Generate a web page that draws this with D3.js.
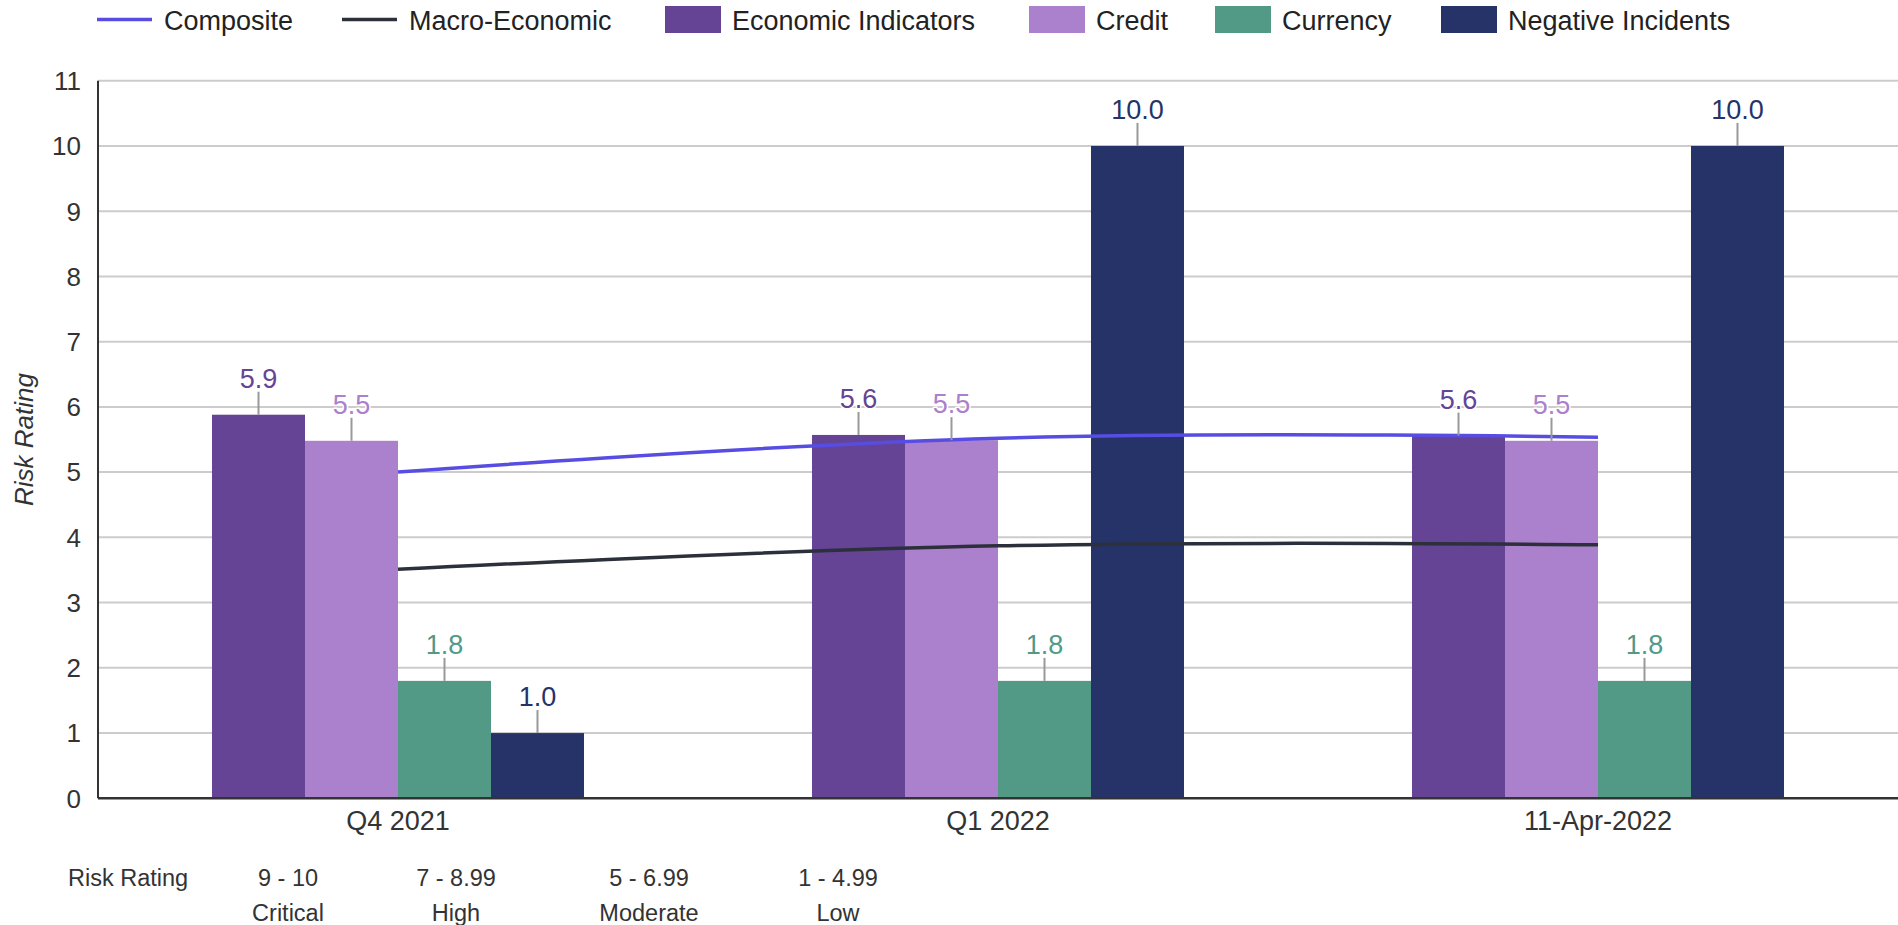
<!DOCTYPE html>
<html>
<head>
<meta charset="utf-8">
<script src="https://cdn.jsdelivr.net/npm/d3@7"></script>
<style>
  html, body { margin: 0; padding: 0; background: #fff; }
  svg { display: block; font-family: "Liberation Sans", Arial, Helvetica, sans-serif; }
</style>
</head>
<body>
<svg id="chart" width="1898" height="925"></svg>
<script>
// ---------- data ----------
const categories = ["Q4 2021", "Q1 2022", "11-Apr-2022"];
const barSeries = ["Economic Indicators", "Credit", "Currency", "Negative Incidents"];
const economicIndicators = [5.88, 5.57, 5.56];
const credit = [5.48, 5.49, 5.48];
const currency = [1.8, 1.8, 1.8];
const negativeIncidents = [1.0, 10.0, 10.0];
const composite = [5.0, 5.52, 5.535];
const macroEconomic = [3.51, 3.87, 3.885];
const yTicks = [0, 1, 2, 3, 4, 5, 6, 7, 8, 9, 10, 11];
const ratingRanges = ["9 - 10", "7 - 8.99", "5 - 6.99", "1 - 4.99"];
const ratingNames = ["Critical", "High", "Moderate", "Low"];

// ---------- styling / layout ----------
const colors = {
  "Composite": "#574de3",
  "Macro-Economic": "#2c303b",
  "Economic Indicators": "#654495",
  "Credit": "#ab80cc",
  "Currency": "#529986",
  "Negative Incidents": "#263368"
};
const barValues = [economicIndicators, credit, currency, negativeIncidents];

const svg = d3.select("#chart");
const plot = { left: 98, right: 1898, top: 80.7, bottom: 798.3 };

const x0 = d3.scaleBand().domain(categories).range([plot.left, plot.right]).paddingInner(0).paddingOuter(0);
const x1 = d3.scaleBand().domain(barSeries).range([0, x0.bandwidth()]).paddingInner(0).paddingOuter(1.226);
const y = d3.scaleLinear().domain([0, 11]).range([plot.bottom, plot.top]);

// gridlines
svg.append("g").selectAll("line").data(yTicks.filter(d => d > 0)).join("line")
  .attr("x1", plot.left).attr("x2", plot.right)
  .attr("y1", d => y(d)).attr("y2", d => y(d))
  .attr("stroke", "#cccccc").attr("stroke-width", 2);

// y tick labels
svg.append("g").selectAll("text").data(yTicks).join("text")
  .attr("x", 81).attr("y", d => y(d)).attr("dy", "0.36em")
  .attr("text-anchor", "end").attr("font-size", 26).attr("fill", "#333")
  .text(d => d);

// y axis title
svg.append("text")
  .attr("transform", `translate(33,${(plot.top + plot.bottom) / 2}) rotate(-90)`)
  .attr("text-anchor", "middle").attr("font-size", 26).attr("font-style", "italic")
  .attr("fill", "#333").text("Risk Rating");

// bars
const groups = svg.append("g").selectAll("g").data(categories).join("g")
  .attr("transform", d => `translate(${x0(d)},0)`);
groups.selectAll("rect").data((c, i) => barSeries.map((s, k) => ({ s, v: barValues[k][i] })))
  .join("rect")
  .attr("x", d => x1(d.s)).attr("width", x1.bandwidth())
  .attr("y", d => y(d.v)).attr("height", d => y(0) - y(d.v))
  .attr("fill", d => colors[d.s]);

// axes lines
svg.append("line").attr("x1", plot.left).attr("x2", plot.left).attr("y1", plot.top).attr("y2", plot.bottom)
  .attr("stroke", "#333").attr("stroke-width", 2);
svg.append("line").attr("x1", plot.left).attr("x2", plot.right).attr("y1", plot.bottom).attr("y2", plot.bottom)
  .attr("stroke", "#333").attr("stroke-width", 2.5);

// x labels
svg.append("g").selectAll("text").data(categories).join("text")
  .attr("x", d => x0(d) + x0.bandwidth() / 2).attr("y", 830)
  .attr("text-anchor", "middle").attr("font-size", 27).attr("fill", "#333")
  .text(d => d);

// spline (Highcharts-like smoothing)
function splinePath(pts) {
  const sm = 1.5, den = sm + 1;
  const ctrl = pts.map((p, i) => {
    if (i === 0 || i === pts.length - 1) return { l: p, r: p };
    const [px, py] = pts[i - 1], [x, yy] = p, [nx, ny] = pts[i + 1];
    const lX = (sm * x + px) / den, lY0 = (sm * yy + py) / den;
    const rX = (sm * x + nx) / den, rY0 = (sm * yy + ny) / den;
    const corr = ((rY0 - lY0) * (rX - x)) / (rX - lX) + yy - rY0;
    return { l: [lX, lY0 + corr], r: [rX, rY0 + corr] };
  });
  const path = d3.path();
  path.moveTo(pts[0][0], pts[0][1]);
  for (let i = 1; i < pts.length; i++) {
    const c1 = ctrl[i - 1].r, c2 = ctrl[i].l;
    path.bezierCurveTo(c1[0], c1[1], c2[0], c2[1], pts[i][0], pts[i][1]);
  }
  return path.toString();
}
const lineSeries = [["Composite", composite], ["Macro-Economic", macroEconomic]];
lineSeries.forEach(([name, vals]) => {
  const pts = categories.map((c, i) => [x0(c) + x0.bandwidth() / 2, y(vals[i])]);
  svg.append("path").attr("d", splinePath(pts)).attr("fill", "none")
    .attr("stroke", colors[name]).attr("stroke-width", 3.5).attr("stroke-linecap", "butt");
});

// data labels with connectors
const labels = svg.append("g");
categories.forEach((c, i) => {
  barSeries.forEach((s, k) => {
    const v = barValues[k][i];
    const cx = x0(c) + x1(s) + x1.bandwidth() / 2;
    const top = y(v);
    labels.append("line").attr("x1", cx).attr("x2", cx).attr("y1", top).attr("y2", top - 23)
      .attr("stroke", "#999").attr("stroke-width", 2);
    labels.append("text").attr("x", cx).attr("y", top - 27)
      .attr("text-anchor", "middle").attr("font-size", 27)
      .attr("fill", colors[s]).attr("stroke", "#fff").attr("stroke-width", 3)
      .attr("paint-order", "stroke").attr("stroke-linejoin", "round")
      .text(v.toFixed(1));
  });
});

// legend
const legendItems = ["Composite", "Macro-Economic", "Economic Indicators", "Credit", "Currency", "Negative Incidents"];
const legendX = [97, 342, 665, 1029, 1215, 1441];
const lg = svg.append("g");
legendItems.forEach((name, i) => {
  const lx = legendX[i];
  if (i < 2) {
    lg.append("line").attr("x1", lx).attr("x2", lx + 55).attr("y1", 19.5).attr("y2", 19.5)
      .attr("stroke", colors[name]).attr("stroke-width", 3.5);
  } else {
    lg.append("rect").attr("x", lx).attr("y", 6).attr("width", 56).attr("height", 27)
      .attr("fill", colors[name]);
  }
  lg.append("text").attr("x", lx + 67).attr("y", 30).attr("font-size", 27).attr("fill", "#222")
    .text(name);
});

// bottom rating table
const tb = svg.append("g").attr("fill", "#333").attr("font-size", 23.5);
tb.append("text").attr("x", 68).attr("y", 886).text("Risk Rating");
const colX = [288, 456, 649, 838];
ratingRanges.forEach((r, i) => {
  tb.append("text").attr("x", colX[i]).attr("y", 886).attr("text-anchor", "middle").text(r);
  tb.append("text").attr("x", colX[i]).attr("y", 921).attr("text-anchor", "middle").text(ratingNames[i]);
});
</script>
</body>
</html>
